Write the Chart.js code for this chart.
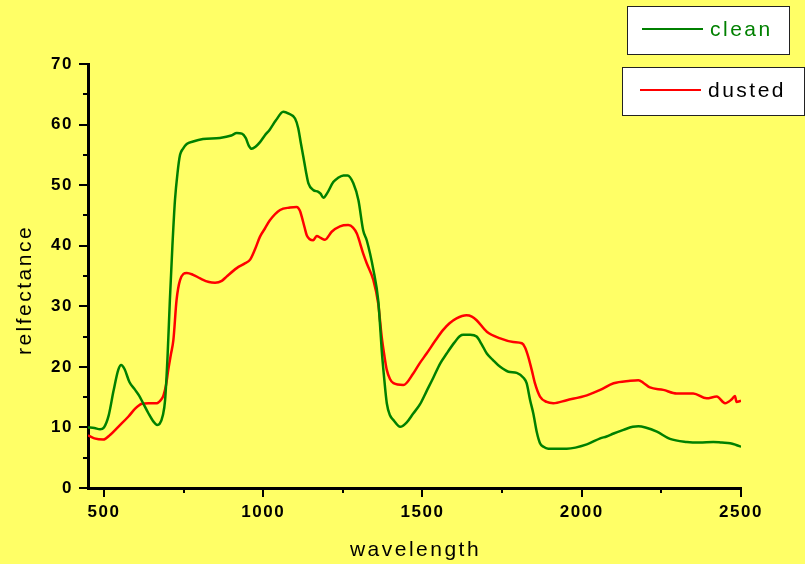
<!DOCTYPE html>
<html>
<head>
<meta charset="utf-8">
<script src="https://cdn.jsdelivr.net/npm/chart.js@4.4.0/dist/chart.umd.min.js"></script>
<style>
  html, body { margin:0; padding:0; background:#FFFF66; }
  canvas { display:block; }
</style>
</head>
<body>
<canvas id="c" width="805" height="564"></canvas>
<script>
// ---- data ----
const cleanWl = [450,470,488,500,515,530,545,554,565,580,598,610,623,640,655,667,675,685,692,700,707,715,723,731,739,748,760,780,811,864,900,917,933,945,955,964,975,990,1005,1021,1040,1063,1080,1100,1110,1118,1126,1134,1142,1157,1173,1180,1189,1200,1220,1235,1252,1265,1283,1299,1314,1325,1346,1361,1368,1372,1380,1388,1398,1409,1430,1450,1471,1492,1513,1534,1555,1576,1600,1618,1628,1650,1670,1685,1702,1720,1744,1770,1796,1817,1827,1838,1848,1859,1869,1880,1895,1953,2016,2058,2078,2100,2131,2160,2178,2200,2236,2277,2330,2370,2413,2440,2466,2485,2500];
const cleanVal = [10.0,9.9,9.7,10.0,12,16,19.5,20.3,19.6,17.5,16.2,15.3,14,12.3,11,10.4,10.6,12,14.5,22,31,40,47.5,52,55,56,56.8,57.2,57.6,57.8,58.2,58.6,58.5,57.8,56.5,56,56.3,57.1,58.2,59.2,60.7,62.1,61.8,61,59.4,57,54.7,52.3,50.3,49.2,48.9,48.6,47.9,48.6,50.5,51.2,51.6,51.6,50.3,47.5,42.5,40.9,36,31,26,22.8,18,14,12,11.2,10.1,10.8,12.3,13.8,16,18.2,20.5,22.2,24,25.1,25.3,25.3,25,23.8,22.2,21.2,20,19.2,19,18.2,17.3,14.5,12.3,9.2,7.4,6.8,6.5,6.5,7.2,8.2,8.5,9,9.6,10.1,10.2,10,9.3,8.1,7.6,7.5,7.6,7.5,7.4,7.1,6.8];

const dustWl = [450,470,498,520,545,577,598,619,640,666,680,687,695,702,710,718,728,739,760,780,802,830,849,870,885,917,940,959,975,990,1005,1021,1053,1084,1105,1115,1121,1130,1137,1157,1168,1180,1194,1215,1241,1267,1282,1294,1314,1325,1346,1361,1372,1380,1388,1398,1409,1440,1471,1490,1513,1540,1565,1585,1607,1638,1655,1670,1702,1744,1785,1812,1822,1832,1843,1853,1869,1890,1911,1953,2016,2058,2100,2152,2178,2195,2214,2256,2298,2350,2392,2424,2450,2470,2481,2486,2500];
const dustVal = [8.7,8.2,8.0,8.8,10.1,11.8,13.1,13.9,14,14,14.6,15.3,17,19.5,22,24.4,31,34.3,35.5,35.2,34.6,34,33.9,34.2,34.9,36.3,37,37.7,39.5,41.5,42.8,44.2,45.9,46.3,46.4,45.8,44.8,43,41.7,40.9,41.6,41.3,41,42.3,43.2,43.4,43,42,38.7,37.1,34.3,30.5,25,22,19.5,18,17.3,17,18.9,20.5,22.2,24.3,26.1,27.2,28,28.5,28.3,27.7,25.8,24.7,24.1,23.9,23.2,21.7,19.5,17.3,15.1,14.2,14,14.5,15.3,16.2,17.3,17.7,17.8,17.3,16.6,16.2,15.6,15.6,14.8,15.1,14,14.6,15.2,14.2,14.4];

const seriesNames = ['clean','dusted'];
const seriesColors = ['#008000','#FF0000'];
const xTickValues = [500,750,1000,1250,1500,1750,2000,2250,2500];
const yTickValues = [0,5,10,15,20,25,30,35,40,45,50,55,60,65,70];
const xTitle = 'wavelength';
const yTitle = 'relfectance';

const BG = '#FFFF66';

const bgPlugin = {
  id:'bg',
  beforeDraw(chart){
    const ctx = chart.ctx;
    ctx.save();
    ctx.fillStyle = BG;
    ctx.fillRect(0,0,chart.width,chart.height);
    ctx.restore();
    ctx.letterSpacing = '1.5px';
  }
};

const decoPlugin = {
  id:'deco',
  afterDraw(chart){
    const ctx = chart.ctx;
    ctx.letterSpacing = '0px';
    const xs = chart.scales.x, ys = chart.scales.y, a = chart.chartArea;
    ctx.save();
    ctx.strokeStyle = '#000';
    ctx.lineWidth = 2;
    xs.ticks.forEach(t => {
      const px = Math.round(xs.getPixelForValue(t.value));
      const len = (t.value % 500 === 0) ? 9 : 5;
      ctx.beginPath(); ctx.moveTo(px, a.bottom); ctx.lineTo(px, a.bottom + len); ctx.stroke();
    });
    ys.ticks.forEach(t => {
      const py = Math.round(ys.getPixelForValue(t.value));
      const len = (t.value % 10 === 0) ? 9 : 5;
      ctx.beginPath(); ctx.moveTo(a.left, py); ctx.lineTo(a.left - len, py); ctx.stroke();
    });
    ctx.restore();

    // axis titles
    ctx.save();
    ctx.fillStyle = '#000';
    ctx.font = '21px "Liberation Sans", Arial, sans-serif';
    ctx.letterSpacing = '2.5px';
    ctx.textAlign = 'center';
    ctx.textBaseline = 'middle';
    ctx.fillText(xTitle, (a.left + a.right)/2 + 1, 550);
    ctx.translate(25, 290);
    ctx.rotate(-Math.PI/2);
    ctx.fillText(yTitle, 0, 0);
    ctx.restore();

    // legend boxes
    const boxes = [
      {x:627.5, y:6.5, w:162, h:48, lx1:642, lx2:703, ly:29, tx:710, ty:36, tc:seriesColors[0]},
      {x:622.5, y:67.5, w:182, h:48, lx1:640, lx2:701, ly:90, tx:708, ty:97, tc:'#000'}
    ];
    boxes.forEach((b,i) => {
      ctx.save();
      ctx.fillStyle = '#fff';
      ctx.fillRect(b.x, b.y, b.w, b.h);
      ctx.strokeStyle = '#222';
      ctx.lineWidth = 1;
      ctx.strokeRect(b.x, b.y, b.w, b.h);
      ctx.strokeStyle = chart.data.datasets[i].borderColor;
      ctx.lineWidth = 2;
      ctx.beginPath(); ctx.moveTo(b.lx1, b.ly); ctx.lineTo(b.lx2, b.ly); ctx.stroke();
      ctx.fillStyle = b.tc;
      ctx.font = '21px "Liberation Sans", Arial, sans-serif';
      ctx.letterSpacing = '2.5px';
      ctx.textAlign = 'left';
      ctx.textBaseline = 'alphabetic';
      ctx.fillText(chart.data.datasets[i].label, b.tx, b.ty);
      ctx.restore();
    });
  }
};

const toPts = (xs, ys) => xs.map((x,i) => ({x:x, y:ys[i]}));

new Chart(document.getElementById('c'), {
  type:'line',
  data:{
    datasets:[
      {label:seriesNames[0], data:toPts(cleanWl, cleanVal), borderColor:seriesColors[0], borderWidth:2.5, pointRadius:0, cubicInterpolationMode:'monotone', fill:false},
      {label:seriesNames[1], data:toPts(dustWl, dustVal), borderColor:seriesColors[1], borderWidth:2.5, pointRadius:0, cubicInterpolationMode:'monotone', fill:false}
    ]
  },
  options:{
    responsive:false,
    animation:false,
    events:[],
    layout:{padding:{top:64, right:64, left:0, bottom:0}},
    plugins:{legend:{display:false}, tooltip:{enabled:false}, title:{display:false}},
    scales:{
      x:{
        type:'linear', min:450, max:2500,
        afterBuildTicks(s){ s.ticks = xTickValues.map(v => ({value:v})); },
        afterFit(s){ s.height = 76; },
        grid:{display:false, drawTicks:false},
        border:{display:true, color:'#000', width:3},
        ticks:{
          color:'#000', padding:14, maxRotation:0, autoSkip:false,
          font:{family:'"Liberation Sans", Arial, sans-serif', size:17, weight:'bold'},
          callback:(v) => (v % 500 === 0 ? String(v) : '')
        }
      },
      y:{
        type:'linear', min:0, max:70,
        afterBuildTicks(s){ s.ticks = yTickValues.map(v => ({value:v})); },
        afterFit(s){ s.width = 88; },
        grid:{display:false, drawTicks:false},
        border:{display:true, color:'#000', width:3},
        ticks:{
          color:'#000', padding:15, autoSkip:false,
          font:{family:'"Liberation Sans", Arial, sans-serif', size:17, weight:'bold'},
          callback:(v) => (v % 10 === 0 ? String(v) : '')
        }
      }
    }
  },
  plugins:[bgPlugin, decoPlugin]
});
</script>
</body>
</html>
